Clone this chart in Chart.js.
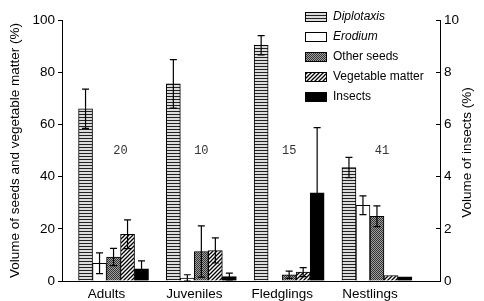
<!DOCTYPE html>
<html>
<head>
<meta charset="utf-8">
<script src="https://cdn.jsdelivr.net/npm/chart.js@4.4.1/dist/chart.umd.min.js"></script>
<style>
  html, body { margin: 0; padding: 0; background: #fff; }
  #wrap { width: 484px; height: 301px; }
</style>
</head>
<body>
<div id="wrap"><canvas id="dietChart"></canvas></div>
<script>
// Age classes on the x axis and sample size written above each group
const ageClasses = ['Adults', 'Juveniles', 'Fledglings', 'Nestlings'];
const sampleSizes = [20, 10, 15, 41];

// Volume (%) - left axis
const diplotaxis = [66, 75.5, 90.3, 43.5];
const erodium = [6.8, 1.1, 0, 29];
const otherSeeds = [9.2, 11.3, 2.4, 24.8];
const vegetableMatter = [17.9, 11.7, 3.4, 2.1];
// Volume (%) - right axis
const insects = [0.47, 0.17, 3.38, 0.16];

// Error bars (+/-)
const diplotaxisErr = [7.5, 9.3, 3.7, 3.9];
const erodiumErr = [4, 1.3, 0, 3.6];
const otherSeedsErr = [3.3, 9.8, 1.4, 4];
const vegetableErr = [5.5, 4.8, 1.7, 0];
const insectsErr = [0.3, 0.13, 2.5, 0];

const leftMax = 100, leftStep = 20;
const rightMax = 10, rightStep = 2;
const italicNames = ['Diplotaxis', 'Erodium'];
const rightTitle = 'Volume of insects (%)';

const FONT = "'Liberation Sans', Arial, sans-serif";

// small helper to build fill patterns
function makePattern(w, h, draw) {
    const c = document.createElement('canvas');
    c.width = w;
    c.height = h;
    const g = c.getContext('2d');
    draw(g, w, h);
    return g.createPattern(c, 'repeat');
}

const stripeFill = makePattern(4, 3, (g, w, h) => {
    g.fillStyle = '#dcdcdc';
    g.fillRect(0, 0, w, h);
    g.fillStyle = '#222';
    g.fillRect(0, 0, w, 1);
});
const checkFill = makePattern(2, 2, (g) => {
    g.fillStyle = '#a0a0a0';
    g.fillRect(0, 0, 2, 2);
    g.fillStyle = '#333';
    g.fillRect(0, 0, 1, 1);
    g.fillRect(1, 1, 1, 1);
});
const hatchFill = makePattern(4, 4, (g) => {
    g.fillStyle = '#fff';
    g.fillRect(0, 0, 4, 4);
    g.strokeStyle = '#000';
    g.lineWidth = 1.3;
    g.beginPath();
    g.moveTo(0, 4); g.lineTo(4, 0);
    g.moveTo(-1, 1); g.lineTo(1, -1);
    g.moveTo(3, 5); g.lineTo(5, 3);
    g.stroke();
});

const series = [
    { label: 'Diplotaxis', values: diplotaxis, err: diplotaxisErr, fill: stripeFill, axis: 'y' },
    { label: 'Erodium', values: erodium, err: erodiumErr, fill: '#fff', axis: 'y' },
    { label: 'Other seeds', values: otherSeeds, err: otherSeedsErr, fill: checkFill, axis: 'y' },
    { label: 'Vegetable matter', values: vegetableMatter, err: vegetableErr, fill: hatchFill, axis: 'y' },
    { label: 'Insects', values: insects, err: insectsErr, fill: '#000', axis: 'y2' }
];

const datasets = series.map(s => ({
    label: s.label,
    data: s.values.map((v, i) => ({ x: i + 1, y: v })),
    errors: s.err,
    backgroundColor: s.fill,
    borderColor: '#000',
    borderWidth: 1,
    barThickness: 14,
    yAxisID: s.axis
}));

// draws the +/- error bars on top of the bars
const errorBars = {
    id: 'errorBars',
    afterDatasetsDraw(chart) {
        const ctx = chart.ctx;
        ctx.save();
        ctx.strokeStyle = '#000';
        ctx.lineWidth = 1.2;
        chart.data.datasets.forEach((ds, di) => {
            const meta = chart.getDatasetMeta(di);
            const scale = chart.scales[ds.yAxisID];
            meta.data.forEach((bar, i) => {
                const e = ds.errors[i];
                if (!e) return;
                const v = ds.data[i].y;
                const top = scale.getPixelForValue(v + e);
                const bot = scale.getPixelForValue(Math.max(0, v - e));
                ctx.beginPath();
                ctx.moveTo(bar.x, top); ctx.lineTo(bar.x, bot);
                ctx.moveTo(bar.x - 3.5, top); ctx.lineTo(bar.x + 3.5, top);
                ctx.moveTo(bar.x - 3.5, bot); ctx.lineTo(bar.x + 3.5, bot);
                ctx.stroke();
            });
        });
        ctx.restore();
    }
};

// sample sizes, legend box and the right axis title (reads bottom-up)
const extras = {
    id: 'extras',
    afterDraw(chart) {
        const ctx = chart.ctx;
        const xs = chart.scales.x, ys = chart.scales.y;
        const area = chart.chartArea;
        ctx.save();
        ctx.fillStyle = '#333';
        ctx.font = "12px 'Liberation Mono', 'DejaVu Sans Mono', monospace";
        ctx.textAlign = 'center';
        ctx.textBaseline = 'middle';
        const nudge = [7, 0, 0, 5];
        sampleSizes.forEach((n, i) => {
            ctx.fillText(String(n), xs.getPixelForValue(i + 1) + nudge[i], ys.getPixelForValue(50));
        });

        const lx = area.right - 135, ly = 12;
        chart.data.datasets.forEach((ds, i) => {
            const top = ly + i * 20;
            ctx.fillStyle = ds.backgroundColor;
            ctx.fillRect(lx, top, 22, 10);
            ctx.strokeStyle = '#000';
            ctx.lineWidth = 1;
            ctx.strokeRect(lx + 0.5, top + 0.5, 21, 9);
            ctx.fillStyle = '#000';
            ctx.textAlign = 'left';
            ctx.font = (italicNames.includes(ds.label) ? 'italic ' : '') + '12px ' + FONT;
            ctx.fillText(ds.label, lx + 28, top + 5);
        });

        ctx.translate(area.right + 27, (area.top + area.bottom) / 2 + 2);
        ctx.rotate(-Math.PI / 2);
        ctx.textAlign = 'center';
        ctx.font = '13.5px ' + FONT;
        ctx.fillText(rightTitle, 0, 0);
        ctx.restore();
    }
};

const tickFont = { family: FONT, size: 13.5 };

new Chart(document.getElementById('dietChart'), {
    type: 'bar',
    data: { datasets: datasets },
    plugins: [errorBars, extras],
    options: {
        responsive: true,
        maintainAspectRatio: false,
        animation: false,
        layout: { padding: { top: 20, right: 0, bottom: 0, left: 0 } },
        plugins: {
            legend: { display: false },
            tooltip: { enabled: false }
        },
        scales: {
            x: {
                type: 'linear',
                offset: false,
                min: 0.413,
                max: 4.718,
                afterBuildTicks: (scale) => {
                    scale.ticks = ageClasses.map((c, i) => ({ value: i + 1 }));
                },
                afterFit: (scale) => { scale.height = 20; },
                grid: { drawOnChartArea: false, drawTicks: false },
                border: { color: '#000', width: 1 },
                ticks: {
                    color: '#000',
                    font: tickFont,
                    padding: 5,
                    labelOffset: -7,
                    autoSkip: false,
                    maxRotation: 0,
                    callback: (v) => ageClasses[v - 1]
                }
            },
            y: {
                position: 'left',
                min: 0,
                max: leftMax,
                afterFit: (scale) => { scale.width = 62; },
                grid: { drawOnChartArea: false, tickLength: 4, color: '#000' },
                border: { color: '#000', width: 1 },
                ticks: { stepSize: leftStep, color: '#000', font: tickFont, padding: 3 },
                title: {
                    display: true,
                    text: 'Volume of seeds and vegetable matter (%)',
                    color: '#000',
                    font: tickFont,
                    padding: { top: 7, bottom: 0 }
                }
            },
            y2: {
                position: 'right',
                min: 0,
                max: rightMax,
                afterFit: (scale) => { scale.width = 44; },
                grid: { drawOnChartArea: false, tickLength: -4, color: '#000' },
                border: { color: '#000', width: 1 },
                ticks: { stepSize: rightStep, color: '#000', font: tickFont, padding: 8 }
            }
        }
    }
});
</script>
</body>
</html>
